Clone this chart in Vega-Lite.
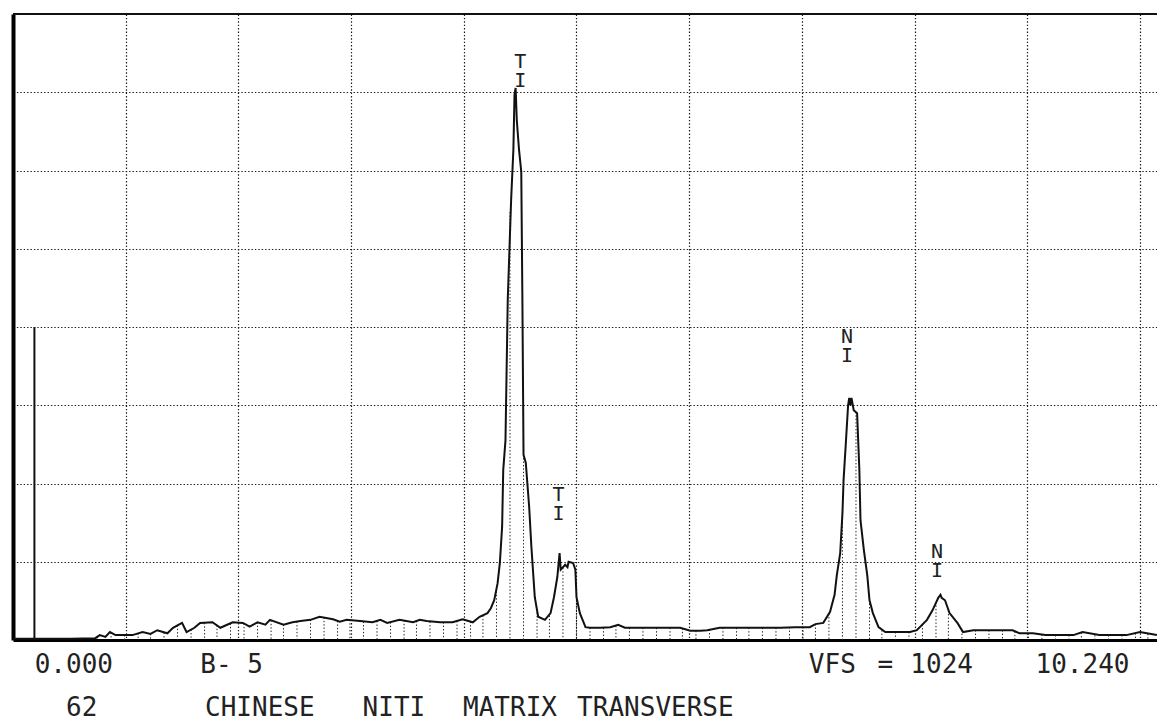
{
  "$schema": "https://vega.github.io/schema/vega-lite/v6.json",
  "width": 1144,
  "height": 626,
  "autosize": {"type": "none"},
  "padding": {"left": 13, "top": 14, "right": 0, "bottom": 81},
  "background": "white",
  "config": {"view": {"stroke": null}, "font": "DejaVu Sans Mono"},
  "datasets": {
    "spectrum": [
      {"kev":0,"counts":2},{"kev":0.24,"counts":2},{"kev":0.51,"counts":2},{"kev":0.73,"counts":3},{"kev":0.77,"counts":8},{"kev":0.82,"counts":5},{"kev":0.86,"counts":13},{"kev":0.91,"counts":8},{"kev":0.99,"counts":8},{"kev":1.06,"counts":8},{"kev":1.15,"counts":13},{"kev":1.22,"counts":10},{"kev":1.28,"counts":16},{"kev":1.37,"counts":11},{"kev":1.42,"counts":20},{"kev":1.50,"counts":28},{"kev":1.54,"counts":13},{"kev":1.61,"counts":20},{"kev":1.66,"counts":28},{"kev":1.77,"counts":29},{"kev":1.84,"counts":20},{"kev":1.90,"counts":25},{"kev":1.95,"counts":29},{"kev":2.04,"counts":28},{"kev":2.10,"counts":22},{"kev":2.17,"counts":29},{"kev":2.24,"counts":25},{"kev":2.28,"counts":33},{"kev":2.40,"counts":25},{"kev":2.48,"counts":29},{"kev":2.55,"counts":31},{"kev":2.64,"counts":33},{"kev":2.72,"counts":38},{"kev":2.84,"counts":34},{"kev":2.90,"counts":30},{"kev":2.96,"counts":33},{"kev":3.08,"counts":31},{"kev":3.19,"counts":29},{"kev":3.26,"counts":33},{"kev":3.32,"counts":28},{"kev":3.43,"counts":33},{"kev":3.55,"counts":29},{"kev":3.61,"counts":33},{"kev":3.67,"counts":31},{"kev":3.79,"counts":29},{"kev":3.90,"counts":29},{"kev":3.99,"counts":34},{"kev":4.08,"counts":29},{"kev":4.14,"counts":38},{"kev":4.21,"counts":44},{"kev":4.24,"counts":52},{"kev":4.27,"counts":65},{"kev":4.30,"counts":93},{"kev":4.32,"counts":126},{"kev":4.34,"counts":185},{"kev":4.35,"counts":278},{"kev":4.37,"counts":327},{"kev":4.38,"counts":442},{"kev":4.39,"counts":556},{"kev":4.42,"counts":720},{"kev":4.44,"counts":802},{"kev":4.45,"counts":892},{"kev":4.46,"counts":903},{"kev":4.47,"counts":851},{"kev":4.49,"counts":802},{"kev":4.51,"counts":766},{"kev":4.52,"counts":556},{"kev":4.53,"counts":303},{"kev":4.55,"counts":290},{"kev":4.58,"counts":218},{"kev":4.60,"counts":152},{"kev":4.63,"counts":70},{"kev":4.66,"counts":38},{"kev":4.72,"counts":33},{"kev":4.77,"counts":44},{"kev":4.80,"counts":70},{"kev":4.83,"counts":103},{"kev":4.84,"counts":123},{"kev":4.85,"counts":142},{"kev":4.86,"counts":115},{"kev":4.90,"counts":123},{"kev":4.92,"counts":119},{"kev":4.93,"counts":128},{"kev":4.97,"counts":126},{"kev":4.99,"counts":115},{"kev":5.00,"counts":70},{"kev":5.03,"counts":44},{"kev":5.08,"counts":21},{"kev":5.12,"counts":20},{"kev":5.21,"counts":20},{"kev":5.30,"counts":21},{"kev":5.37,"counts":25},{"kev":5.43,"counts":20},{"kev":5.65,"counts":20},{"kev":5.92,"counts":20},{"kev":6.01,"counts":15},{"kev":6.10,"counts":15},{"kev":6.16,"counts":16},{"kev":6.27,"counts":20},{"kev":6.54,"counts":20},{"kev":6.81,"counts":20},{"kev":6.94,"counts":21},{"kev":7.07,"counts":21},{"kev":7.12,"counts":26},{"kev":7.19,"counts":28},{"kev":7.25,"counts":46},{"kev":7.29,"counts":74},{"kev":7.31,"counts":106},{"kev":7.34,"counts":142},{"kev":7.36,"counts":208},{"kev":7.37,"counts":262},{"kev":7.39,"counts":322},{"kev":7.41,"counts":384},{"kev":7.42,"counts":396},{"kev":7.43,"counts":384},{"kev":7.44,"counts":396},{"kev":7.46,"counts":376},{"kev":7.49,"counts":371},{"kev":7.51,"counts":278},{"kev":7.52,"counts":196},{"kev":7.55,"counts":147},{"kev":7.58,"counts":106},{"kev":7.60,"counts":65},{"kev":7.63,"counts":44},{"kev":7.68,"counts":21},{"kev":7.74,"counts":13},{"kev":7.87,"counts":13},{"kev":7.96,"counts":13},{"kev":8.02,"counts":16},{"kev":8.11,"counts":33},{"kev":8.16,"counts":49},{"kev":8.21,"counts":69},{"kev":8.23,"counts":74},{"kev":8.24,"counts":69},{"kev":8.27,"counts":65},{"kev":8.31,"counts":44},{"kev":8.38,"counts":28},{"kev":8.43,"counts":13},{"kev":8.52,"counts":16},{"kev":8.76,"counts":16},{"kev":8.87,"counts":16},{"kev":8.93,"counts":11},{"kev":9.05,"counts":11},{"kev":9.16,"counts":8},{"kev":9.41,"counts":8},{"kev":9.49,"counts":13},{"kev":9.64,"counts":8},{"kev":9.88,"counts":8},{"kev":10.0,"counts":13},{"kev":10.15,"counts":8}
    ],
    "hatch": [
      {"kev":0.75,"counts":5},{"kev":0.87,"counts":12},{"kev":0.99,"counts":8},{"kev":1.11,"counts":11},{"kev":1.22,"counts":10},{"kev":1.34,"counts":12},{"kev":1.46,"counts":24},{"kev":1.58,"counts":17},{"kev":1.70,"counts":28},{"kev":1.81,"counts":24},{"kev":1.93,"counts":27},{"kev":2.05,"counts":27},{"kev":2.17,"counts":29},{"kev":2.29,"counts":32},{"kev":2.40,"counts":25},{"kev":2.52,"counts":30},{"kev":2.64,"counts":33},{"kev":2.76,"counts":37},{"kev":2.88,"counts":31},{"kev":2.99,"counts":33},{"kev":3.11,"counts":30},{"kev":3.23,"counts":31},{"kev":3.35,"counts":29},{"kev":3.47,"counts":32},{"kev":3.58,"counts":31},{"kev":3.70,"counts":30},{"kev":3.82,"counts":29},{"kev":3.94,"counts":31},{"kev":4.06,"counts":30},{"kev":4.17,"counts":40},{"kev":4.29,"counts":85},{"kev":4.41,"counts":700},{"kev":4.53,"counts":303},{"kev":4.65,"counts":45},{"kev":4.76,"counts":40},{"kev":4.88,"counts":118},{"kev":5.00,"counts":70},{"kev":5.12,"counts":20},{"kev":5.24,"counts":20},{"kev":5.35,"counts":23},{"kev":5.47,"counts":20},{"kev":5.59,"counts":20},{"kev":5.71,"counts":20},{"kev":5.83,"counts":20},{"kev":5.94,"counts":19},{"kev":6.06,"counts":15},{"kev":6.18,"counts":17},{"kev":6.30,"counts":20},{"kev":6.42,"counts":20},{"kev":6.53,"counts":20},{"kev":6.65,"counts":20},{"kev":6.77,"counts":20},{"kev":6.89,"counts":21},{"kev":7.01,"counts":21},{"kev":7.12,"counts":26},{"kev":7.24,"counts":43},{"kev":7.36,"counts":208},{"kev":7.48,"counts":373},{"kev":7.60,"counts":65},{"kev":7.71,"counts":16},{"kev":7.83,"counts":13},{"kev":7.95,"counts":13},{"kev":8.07,"counts":25},{"kev":8.19,"counts":62},{"kev":8.30,"counts":48},{"kev":8.42,"counts":16},{"kev":8.54,"counts":16},{"kev":8.66,"counts":16},{"kev":8.78,"counts":16},{"kev":8.89,"counts":14},{"kev":9.01,"counts":11},{"kev":9.13,"counts":9},{"kev":9.25,"counts":8},{"kev":9.37,"counts":8},{"kev":9.48,"counts":12},{"kev":9.60,"counts":8},{"kev":9.72,"counts":8},{"kev":9.84,"counts":8},{"kev":9.96,"counts":11},{"kev":10.07,"counts":10}
    ],
    "marker": [{"kev":0.19,"counts":512}],
    "peaks": [
      {"kev":4.50,"counts":946,"text":"T\nI"},
      {"kev":4.84,"counts":237,"text":"T\nI"},
      {"kev":7.40,"counts":495,"text":"N\nI"},
      {"kev":8.20,"counts":144,"text":"N\nI"}
    ],
    "footer": [
      {"kev":0.54,"counts":-41,"text":"0.000"},
      {"kev":1.94,"counts":-41,"text":"B- 5"},
      {"kev":7.27,"counts":-41,"text":"VFS"},
      {"kev":7.74,"counts":-41,"text":"="},
      {"kev":8.24,"counts":-41,"text":"1024"},
      {"kev":9.49,"counts":-41,"text":"10.240"},
      {"kev":0.61,"counts":-111,"text":"62"},
      {"kev":2.19,"counts":-111,"text":"CHINESE"},
      {"kev":3.38,"counts":-111,"text":"NITI"},
      {"kev":4.41,"counts":-111,"text":"MATRIX"},
      {"kev":5.70,"counts":-111,"text":"TRANSVERSE"}
    ]
  },
  "layer": [
    {
      "data": {"name": "hatch"},
      "mark": {"type": "rule", "color": "#222", "strokeWidth": 1, "strokeDash": [1.4, 2]},
      "encoding": {
        "x": {"field": "kev", "type": "quantitative", "scale": {"domain": [0, 10.151], "nice": false, "zero": false},
              "axis": {"title": null, "labels": false, "ticks": false, "domain": true, "domainColor": "#000", "domainWidth": 3,
                       "grid": true, "gridColor": "#1a1a1a", "gridWidth": 1.2, "gridDash": [1.4, 2], "values": [1,2,3,4,5,6,7,8,9,10]}},
        "y": {"field": "counts", "type": "quantitative", "scale": {"domain": [0, 1024], "nice": false},
              "axis": {"title": null, "labels": false, "ticks": false, "domain": true, "domainColor": "#000", "domainWidth": 4,
                       "grid": true, "gridColor": "#1a1a1a", "gridWidth": 1.2, "gridDash": [1.4, 2], "values": [128,256,384,512,640,768,896]}},
        "y2": {"datum": 0}
      }
    },
    {
      "data": {"name": "spectrum"},
      "mark": {"type": "line", "color": "#111", "strokeWidth": 2, "interpolate": "linear"},
      "encoding": {
        "x": {"field": "kev", "type": "quantitative", "axis": {"title": null}},
        "y": {"field": "counts", "type": "quantitative", "axis": {"title": null}}
      }
    },
    {
      "data": {"name": "marker"},
      "mark": {"type": "rule", "color": "#111", "strokeWidth": 2},
      "encoding": {
        "x": {"field": "kev", "type": "quantitative", "axis": {"title": null}},
        "y": {"field": "counts", "type": "quantitative", "axis": {"title": null}},
        "y2": {"datum": 0}
      }
    },
    {
      "data": {"values": [{"counts": 1024}]},
      "mark": {"type": "rule", "color": "#111", "strokeWidth": 2},
      "encoding": {
        "y": {"field": "counts", "type": "quantitative", "axis": {"title": null}}
      }
    },
    {
      "data": {"name": "peaks"},
      "mark": {"type": "text", "font": "DejaVu Sans Mono", "fontSize": 20, "color": "#222", "baseline": "middle", "align": "center", "lineBreak": "\n", "lineHeight": 19},
      "encoding": {
        "x": {"field": "kev", "type": "quantitative", "axis": {"title": null}},
        "y": {"field": "counts", "type": "quantitative", "axis": {"title": null}},
        "text": {"field": "text"}
      }
    },
    {
      "data": {"name": "footer"},
      "mark": {"type": "text", "font": "DejaVu Sans Mono", "fontSize": 26, "color": "#222", "baseline": "middle", "align": "center"},
      "encoding": {
        "x": {"field": "kev", "type": "quantitative", "axis": {"title": null}},
        "y": {"field": "counts", "type": "quantitative", "axis": {"title": null}},
        "text": {"field": "text"}
      }
    }
  ]
}
